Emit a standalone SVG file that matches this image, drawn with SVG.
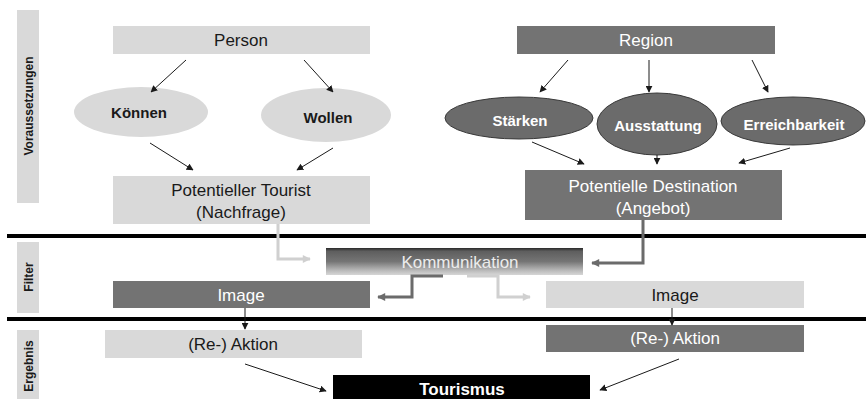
<svg xmlns="http://www.w3.org/2000/svg" width="866" height="399" viewBox="0 0 866 399">
<style>
.lt{fill:#d9d9d9}
.dk{fill:#737373}
.side{fill:#d9d9d9}
.t{font-family:"Liberation Sans",Arial,sans-serif;font-size:17px;text-anchor:middle;dominant-baseline:central}
.tw{fill:#ffffff}
.tb{fill:#1a1a1a}
.b{font-family:"Liberation Sans",Arial,sans-serif;font-weight:bold;font-size:15px;text-anchor:middle;dominant-baseline:central}
.big{font-size:17px}
.s{font-family:"Liberation Sans",Arial,sans-serif;font-weight:bold;font-size:12px;text-anchor:middle;dominant-baseline:central;fill:#1a1a1a}
.ell{fill:#d9d9d9}
.elld{fill:#6b6b6b;stroke:#3a3a3a;stroke-width:1}
.ar{stroke:#1a1a1a;stroke-width:1;fill:none;marker-end:url(#ah)}
.bar{stroke:#000;stroke-width:4}
</style>
<defs>
<marker id="ah" viewBox="0 0 10 10" refX="9" refY="5" markerWidth="7" markerHeight="7" orient="auto" markerUnits="userSpaceOnUse"><path d="M0,0 L10,5 L0,10 z" fill="#1a1a1a"/></marker>
<marker id="ahl" viewBox="0 0 10 10" refX="9" refY="5" markerWidth="9" markerHeight="8" orient="auto" markerUnits="userSpaceOnUse"><path d="M0,0 L10,5 L0,10 z" fill="#d0d0d0"/></marker>
<marker id="ahd" viewBox="0 0 10 10" refX="9" refY="5" markerWidth="9" markerHeight="8" orient="auto" markerUnits="userSpaceOnUse"><path d="M0,0 L10,5 L0,10 z" fill="#6b6b6b"/></marker>
<linearGradient id="kg" x1="0" y1="0" x2="0" y2="1">
<stop offset="0" stop-color="#2a2a2a"/>
<stop offset="0.12" stop-color="#5e5e5e"/>
<stop offset="0.5" stop-color="#757575"/>
<stop offset="0.85" stop-color="#bdbdbd"/>
<stop offset="1" stop-color="#d6d6d6"/>
</linearGradient>
</defs>

<g id="side-labels">
<rect class="side" x="17" y="10" width="22" height="193"/>
<text class="s" transform="translate(29,106) rotate(-90)">Voraussetzungen</text>
<rect class="side" x="17" y="242" width="22" height="71"/>
<text class="s" transform="translate(29,277) rotate(-90)">Filter</text>
<rect class="side" x="17" y="330" width="22" height="69"/>
<text class="s" transform="translate(29,366) rotate(-90)">Ergebnis</text>
</g>

<g id="separators">
<line class="bar" x1="7" y1="236" x2="866" y2="236"/>
<line class="bar" x1="7" y1="319" x2="866" y2="319"/>
</g>

<g id="person"><rect class="lt" x="113" y="26" width="257" height="28"/><text class="t tb" x="241" y="40">Person</text></g>
<g id="region"><rect class="dk" x="517" y="26" width="258" height="28"/><text class="t tw" x="646" y="40">Region</text></g>

<g id="koennen"><ellipse class="ell" cx="141" cy="112" rx="67" ry="25"/><text class="b tb" x="139" y="112">Können</text></g>
<g id="wollen"><ellipse class="ell" cx="326" cy="115" rx="65" ry="27"/><text class="b tb" x="328" y="117">Wollen</text></g>

<g id="staerken"><ellipse class="elld" cx="519" cy="118" rx="74" ry="21"/><text class="b tw" x="520" y="120">Stärken</text></g>
<g id="ausstattung"><ellipse class="elld" cx="657" cy="124" rx="60" ry="31"/><text class="b tw" x="658" y="125">Ausstattung</text></g>
<g id="erreichbarkeit"><ellipse class="elld" cx="793" cy="121" rx="72" ry="24"/><text class="b tw" x="794" y="124">Erreichbarkeit</text></g>

<g id="tourist"><rect class="lt" x="113" y="176" width="257" height="48"/><text class="t tb" x="241" y="190">Potentieller Tourist</text><text class="t tb" x="241" y="212">(Nachfrage)</text></g>
<g id="destination"><rect class="dk" x="525" y="170" width="257" height="50"/><text class="t tw" x="653" y="186">Potentielle Destination</text><text class="t tw" x="653" y="208">(Angebot)</text></g>

<g id="kommunikation"><rect fill="url(#kg)" x="326" y="248" width="257" height="27"/><text class="t" fill="#ececec" x="460" y="262">Kommunikation</text></g>

<g id="image-left"><rect class="dk" x="113" y="281" width="257" height="27"/><text class="t tw" x="241" y="295">Image</text></g>
<g id="image-right"><rect class="lt" x="546" y="281" width="258" height="27"/><text class="t tb" x="675" y="295">Image</text></g>

<g id="aktion-left"><rect class="lt" x="105" y="330" width="257" height="28"/><text class="t tb" x="233" y="344">(Re-) Aktion</text></g>
<g id="aktion-right"><rect class="dk" x="546" y="325" width="258" height="27"/><text class="t tw" x="675" y="338">(Re-) Aktion</text></g>

<g id="tourismus"><rect fill="#000" x="333" y="375" width="257" height="24"/><text class="b big" fill="#fff" x="462" y="389">Tourismus</text></g>

<g id="connectors">
<line class="ar" x1="186" y1="60" x2="151" y2="92"/>
<line class="ar" x1="304" y1="60" x2="333" y2="92"/>
<line class="ar" x1="150" y1="143" x2="193" y2="170"/>
<line class="ar" x1="333" y1="148" x2="297" y2="170"/>
<line class="ar" x1="568" y1="60" x2="540" y2="92"/>
<line class="ar" x1="649" y1="60" x2="649" y2="92"/>
<line class="ar" x1="752" y1="60" x2="768" y2="92"/>
<line class="ar" x1="532" y1="142" x2="584" y2="164"/>
<line class="ar" x1="657" y1="155" x2="657" y2="164"/>
<line class="ar" x1="790" y1="148" x2="739" y2="163"/>
<path d="M278,224 V259 H310" fill="none" stroke="#d0d0d0" stroke-width="3" marker-end="url(#ahl)"/>
<path d="M643,220 V263 H592" fill="none" stroke="#6b6b6b" stroke-width="3" marker-end="url(#ahd)"/>
<path d="M443,276 H412 V297 H378" fill="none" stroke="#6b6b6b" stroke-width="3" marker-end="url(#ahd)"/>
<path d="M467,276 H498 V297 H530" fill="none" stroke="#d0d0d0" stroke-width="3" marker-end="url(#ahl)"/>
<line class="ar" x1="245" y1="308" x2="245" y2="329"/>
<line class="ar" x1="672" y1="308" x2="672" y2="325"/>
<line class="ar" x1="245" y1="364" x2="326" y2="391"/>
<line class="ar" x1="679" y1="359" x2="600" y2="390"/>
</g>
</svg>
